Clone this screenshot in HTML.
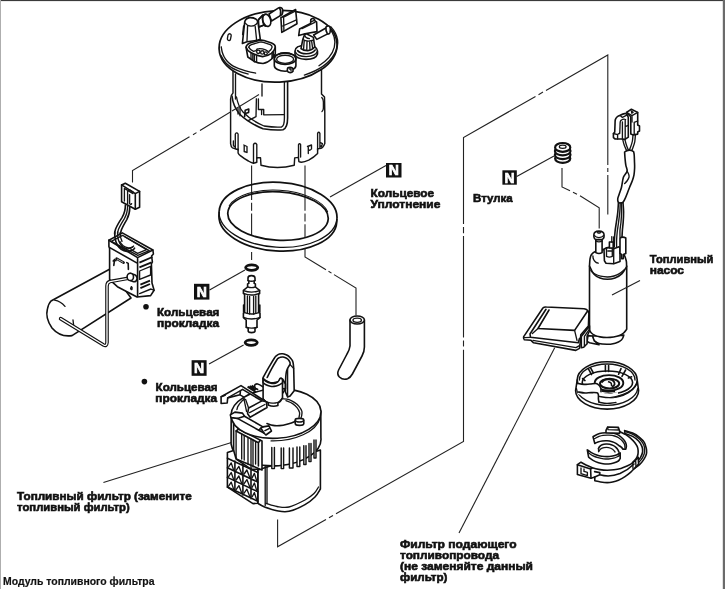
<!DOCTYPE html>
<html><head><meta charset="utf-8">
<style>
html,body{margin:0;padding:0;background:#fff;}
body{width:725px;height:589px;overflow:hidden;position:relative;font-family:"Liberation Sans",sans-serif;}
svg{position:absolute;left:0;top:0;display:block;filter:grayscale(100%)}
text{font-family:"Liberation Sans",sans-serif;font-weight:bold;fill:#111;}
.t{font-size:11.5px;stroke:#111;stroke-width:0.62px;}
.c{font-size:11px;stroke:#111;stroke-width:0.2px;}
.n{font-size:14px;fill:#fff;stroke:#fff;stroke-width:0.7px;}
.l{fill:none;stroke:#151515;stroke-width:1.35;stroke-linecap:round;stroke-linejoin:round}
.h{fill:none;stroke:#111;stroke-width:1.75;stroke-linecap:round;stroke-linejoin:round}
.m{fill:none;stroke:#111;stroke-width:1.6;stroke-linecap:round;stroke-linejoin:round}
.w{fill:#fff;stroke:#151515;stroke-width:1.45;stroke-linecap:round;stroke-linejoin:round}
.wm{fill:#fff;stroke:#111;stroke-width:1.6;stroke-linecap:round;stroke-linejoin:round}
.wh{fill:#fff;stroke:#111;stroke-width:1.75;stroke-linecap:round;stroke-linejoin:round}
.k{fill:#111;stroke:none}
.ld{fill:none;stroke:#222;stroke-width:1.1;}
</style></head><body>
<svg width="725" height="589" viewBox="0 0 725 589">
<rect x="0" y="0" width="725" height="589" fill="#fff"/>
<!-- frame -->
<rect x="0" y="0" width="725" height="1.1" fill="#3a3a3a"/>
<rect x="0" y="0" width="1" height="589" fill="#aeaeae"/>
<rect x="722.8" y="0" width="2.2" height="589" fill="#6b6b6b"/>

<!-- ===== LEADERS ===== -->
<g id="leaders" class="ld">
<!-- module -> sender connector -->
<path d="M259 94.5 L200 130.5 M196.5 132.6 L193 134.7 M189.5 136.8 L132.5 170.5 L132.5 182.5"/>
<!-- verticals through ring -->
<path d="M251.6 165.5 V200 M251.6 202.8 V210.8 M251.6 213.5 V243 M251.6 252 V260"/>
<path d="M305 165.5 V210.8 M305 213.5 V221.5 M305 224.2 V257 L326 269.8 M328.5 271.3 L331.5 273.1 M334 274.6 L356 288 V315.5"/>
<!-- ring N -->
<path d="M330 197 L386 165.5"/>
<!-- oring N upper -->
<path d="M209.5 290 L245 270"/>
<path d="M209 364 L243.6 345"/>
<!-- filter label -->
<path d="M103.4 482.6 L233 442"/>
<!-- big polygon -->
<path d="M607.8 214.5 V175 M607.8 172 V168 M607.8 165 V55 L546 90.4 M543 92.1 L538.5 94.7 M535.5 96.4 L463.5 137.6 V224 M463.5 227 V233.2 M463.5 236 V337.6 M463.5 340.6 V346.6 M463.5 349.8 V441.5 L336 513.7 M333 515.4 L329 517.7 M326 519.4 L277.6 546.8 V519.5"/>
<!-- bushing -->
<path d="M516.7 176.5 L554 156"/>
<path d="M562 168 V187 L570 190.8 M573 192.3 L577 194.2 M580 195.8 L599.2 207.7 V228.6"/>
<!-- supply filter label -->
<path d="M554.7 347.8 L459 533"/>
</g>

<!-- ===== N BOXES ===== -->
<g id="nboxes">
<rect class="k" x="386" y="163" width="15.5" height="14.5"/>
<text class="n" x="393.8" y="175.3" text-anchor="middle">N</text>
<rect class="k" x="502.4" y="170.3" width="14.4" height="14.4"/>
<text class="n" x="509.6" y="182.5" text-anchor="middle">N</text>
<rect class="k" x="194" y="283.8" width="15.4" height="15.8"/>
<text class="n" x="201.7" y="296.9" text-anchor="middle">N</text>
<rect class="k" x="191.6" y="360.2" width="15" height="15.6"/>
<text class="n" x="199.1" y="373.2" text-anchor="middle">N</text>
</g>

<!-- ===== TEXT ===== -->
<g id="labels">
<text class="t" x="370.6" y="197.2" textLength="63.4" lengthAdjust="spacingAndGlyphs">Кольцевое</text>
<text class="t" x="370.6" y="208.1" textLength="69.8" lengthAdjust="spacingAndGlyphs">Уплотнение</text>
<text class="t" x="473" y="202.3" textLength="39.7" lengthAdjust="spacingAndGlyphs">Втулка</text>
<text class="t" x="649.8" y="263" textLength="63.6" lengthAdjust="spacingAndGlyphs">Топливный</text>
<text class="t" x="649.8" y="273.9" textLength="34.2" lengthAdjust="spacingAndGlyphs">насос</text>
<circle class="k" cx="146" cy="306.8" r="2.8"/>
<text class="t" x="157" y="316" textLength="62.4" lengthAdjust="spacingAndGlyphs">Кольцевая</text>
<text class="t" x="157" y="327.2" textLength="62" lengthAdjust="spacingAndGlyphs">прокладка</text>
<circle class="k" cx="144.4" cy="381.6" r="2.8"/>
<text class="t" x="155.6" y="390.6" textLength="62" lengthAdjust="spacingAndGlyphs">Кольцевая</text>
<text class="t" x="155.3" y="401.8" textLength="61.8" lengthAdjust="spacingAndGlyphs">прокладка</text>
<text class="t" x="17.1" y="499.9" textLength="174.6" lengthAdjust="spacingAndGlyphs">Топливный фильтр (замените</text>
<text class="t" x="17.1" y="510.9" textLength="112.6" lengthAdjust="spacingAndGlyphs">топливный фильтр)</text>
<text class="t" x="400" y="547.8" textLength="116.6" lengthAdjust="spacingAndGlyphs">Фильтр подающего</text>
<text class="t" x="400" y="559" textLength="99" lengthAdjust="spacingAndGlyphs">топливопровода</text>
<text class="t" x="400" y="570.4" textLength="133" lengthAdjust="spacingAndGlyphs">(не заменяйте данный</text>
<text class="t" x="400" y="581.4" textLength="47.4" lengthAdjust="spacingAndGlyphs">фильтр)</text>
<text class="c" x="3" y="584.8" textLength="151.5" lengthAdjust="spacingAndGlyphs">Модуль топливного фильтра</text>
</g>

<!-- ===== PARTS ===== -->
<g id="parts">
<!-- ===== TOP MODULE ===== -->
<g id="module">
<!-- body silhouette -->
<path class="w" d="M233 70 L233 93 Q230.6 95 230.6 99 L230.6 143.7 Q231 147.2 232.5 147.9 L236.7 149.3 L238.1 149.3 L238.1 153 Q239 155 240 155.4 Q244 158.6 248.4 161 Q251 162.6 253.5 163.3 L256.8 162.2 L256.8 157.7 L260.5 157.7 L261 165.2 Q277 169.8 294.2 165.3 L294.7 157.9 L298.4 157.4 L298.9 161.6 Q302 163.2 308.7 160.2 Q314 157.4 317.6 153.6 L317.6 148.6 L319.4 148.6 Q323 148.4 324.8 143.4 L324.8 113 L324.5 97 L321.5 94 L321.5 70 Z"/>
<path class="l" d="M235.5 74 L235.5 99"/>
<path class="m" d="M232 96 Q233 106 239.5 114 Q248 122.5 263 128.8 Q275 130.6 283 129.8 Q287.6 128 287.6 118 L287.6 81"/>
<path class="l" d="M236.5 97 Q238 106 243 112 Q251 120.5 264 126 Q275 127.6 281.5 127 Q284.4 126 284.4 118 L284.4 82"/>
<!-- leader inside window -->
<path class="ld" d="M259 94.5 L232 111"/>
<!-- inner back wall details -->
<path class="l" d="M262 84 L262 96"/>
<path class="l" d="M256.4 98.8 L256 116.7 L248.2 120.6 M258.4 98.8 L258.4 109.5 L263.7 109.5 L263.7 114.8 L284.4 114.6 M261.6 109.5 L261.6 114.6"/>
<path class="l" d="M240 107 L240 115.8 M238 108.4 L238 114"/>
<path class="m" d="M244.6 116.6 L245.2 110.2 L248.8 109 L248.6 112.4 L245.2 113.6"/>
<!-- right side wall details -->
<path class="l" d="M321.8 97.5 Q323.4 99 323.4 102 L323.4 108 Q323.4 110.5 322 111.5"/>
<path class="l" d="M317.6 150 L317.6 133.4 Q318.7 131.2 319.9 133.4 L319.9 148.4 M320 142.4 L322.4 143.6 L321.6 146.4 L320 145.6"/>
<!-- bottom tabs left -->
<path class="l" d="M235.3 148.6 L235.3 134 Q236.7 131.8 238.1 134 L238.1 150"/>
<path class="l" d="M253.5 163 L253.5 144.4 Q255.1 142.2 256.8 144.4 L256.8 158"/>
<path class="l" d="M243.8 145 L247 146.5 L247 152.5 M244.2 146 L244.2 151.5 L246 152.2"/>
<path class="l" d="M233.4 141 L233.4 145.6 L234.8 146.6"/>
<!-- bottom tabs right -->
<path class="l" d="M298.5 144.5 L298.5 157.5 M300.6 144.5 L300.6 157 M298.5 144.5 Q299.5 143 300.6 144.5"/>
<path class="l" d="M307.5 146.5 L311.5 145 L311.5 149 M308.3 147.5 L308.3 153.5 M308.3 150.5 L310.5 149.8"/>
<!-- FLANGE -->
<g transform="rotate(-2.5 277.2 45)">
<ellipse class="wh" cx="278" cy="46.4" rx="59" ry="35.8"/>
<path class="l" d="M303 76.2 A59.6 35 0 0 0 331.5 29"/>
<path class="l" d="M318 67.5 A57.5 33 0 0 0 329.5 30"/>
</g>
<path class="l" d="M220.8 55.3 C221.2 56.0 222.4 58.2 223.4 59.6 C224.4 61.0 225.3 62.5 226.7 63.8 C228.1 65.1 229.8 66.5 231.6 67.6 C233.4 68.7 235.9 69.8 237.8 70.6 C239.7 71.4 241.3 72.0 243.0 72.6 C244.7 73.2 247.2 73.8 248.0 74.0"/>
<path class="l" d="M221.2 46.8 C221.4 47.7 221.7 50.3 222.2 52.0 C222.7 53.7 223.4 55.5 224.2 57.0 C225.0 58.5 225.9 59.7 227.0 61.0 C228.1 62.3 229.5 63.5 231.0 64.6 C232.5 65.7 234.2 66.6 236.0 67.4 C237.8 68.2 239.9 69.0 242.0 69.7 C244.1 70.4 246.3 71.0 248.6 71.6 C250.9 72.2 254.4 72.8 255.6 73.1"/>
<!-- small slot -->
<path class="l" d="M228 35 Q228.6 33.6 230.2 33.8 Q231.4 34.2 231.2 35.6 L230.4 39.6 Q229.8 40.8 228.4 40.4 Q227.2 40 227.4 38.6 Z"/>
<!-- elbow tube from post -->
<path class="w" d="M258.5 19.6 L262.6 15 L267 23.8 L258.9 27 Z" stroke="none"/>
<path class="m" d="M258.5 19.8 L262.8 15.4 M259 27 L266 24.2"/>
<path class="wm" d="M269 14 L278.2 8.1 Q280.5 6.6 282.2 8.6 Q283.6 11 282 14.6 L271.5 21 Z"/>
<path class="m" d="M279.4 7.6 Q281.4 10.6 280.4 15.4"/>
<ellipse class="wm" cx="266.7" cy="20.2" rx="3.9" ry="6.3" transform="rotate(-18 266.7 20.2)"/>
<path class="m" d="M265.2 14.5 Q262.2 15 262.6 20 Q263 25 265.4 26.2"/>
<!-- post -->
<path class="wm" d="M242.4 43.4 L244.7 22 Q245.5 18.2 249.8 17.6 Q255 17.4 257.2 20.4 L258.2 24 L260.3 39.3 L256.6 40.4 L247 41.8 Z"/>
<path class="l" d="M247.6 25.6 L247 40.8 M255.2 26.5 L256.6 39.8 M245.2 23 Q247 25.8 251 26.2 Q255.6 26 257.6 22.4"/>
<path class="l" d="M243.6 26 L242.6 34.5"/>
<!-- plate 1 -->
<path class="wm" d="M280.9 17.8 L295.6 9.5 L297 23.7 L281.8 32.4 Z"/>
<path class="l" d="M282.7 26 L296.5 19.8 M283.6 17.4 L283.9 30.8 M283.6 17.2 L294.7 11.4"/>
<!-- plate 2 -->
<path class="wm" d="M299.6 29 L310.6 23.4 L310.8 19.6 Q312.4 17.8 314.2 19 L315.2 21.2 L316.6 22 L317 31.6 L305 33.8 L298.7 35.6 Z"/>
<path class="l" d="M302 28.6 L314.8 22.4 M310.8 21.8 L314.4 20.4"/>
<!-- tube right -->
<path class="wm" d="M313.6 35 L326.4 27.8 L328.2 33.6 L316.8 39.4 Z"/>
<path class="wm" d="M326 27 Q327.6 25 329.6 26.4 Q331.2 29 330 32.6 Q328.8 34.6 327.4 33.8 Q325.4 31.2 326 27 Z"/>
<!-- fitting base -->
<path class="wm" d="M295 51 Q295 45.4 306.2 45.2 Q317.4 45.6 317.5 51 L317.5 54 Q316 59.4 306 59.4 Q296 59 295 54.4 Z"/>
<path class="l" d="M295.4 52 Q297 56.4 306.2 56.6 Q315.6 56.4 317.3 51.6"/>
<path class="m" d="M297.6 50.6 Q300.4 53.8 306.4 53.8 Q312.4 53.6 315.2 50"/>
<!-- nut -->
<path class="wm" d="M301 48.6 L302.8 39.5 L304.4 35 Q305.4 33.4 307.4 34.2 L313.4 37.4 L313.8 40.6 L314.8 46.8 Q312 50.4 307.6 50.6 Q303.4 50.6 301 48.6 Z"/>
<path class="l" d="M304.2 41 L303.6 48.6 M307 41.4 L306.8 49.6 M309.6 41.4 L310 49.4 M311.6 40.8 L312.6 48.2 M302.8 39.5 Q307 42.2 313.6 40.2"/>
<path class="l" d="M304.6 35.2 Q305.4 38 309.4 38.6"/>
<!-- ring -->
<path class="wm" d="M274.3 58.7 A10.8 5.8 0 0 1 295.9 58.7 L295.9 65.4 A10.8 5.9 0 0 1 274.3 65.4 Z"/>
<ellipse class="m" cx="285.1" cy="58.7" rx="10.8" ry="5.8"/>
<ellipse class="l" cx="285.1" cy="59.3" rx="8.5" ry="4.1"/>
<path class="wm" d="M287.4 69 Q287.6 67.4 290 67.4 Q292.8 67.6 293 69.2 L293 71.2 Q292 72.6 290.2 72.6 Q287.8 72.4 287.4 71 Z"/>
<path class="l" d="M289.6 69 L291 69 L291 70.8"/>
<!-- connector socket -->
<path class="wm" d="M246 47 Q246.6 44.4 250 43 L259 40.4 Q261.5 39.8 264 40.6 L271.6 43 Q275.6 44.6 275.3 47.4 L275.3 54 L271.6 59 Q267.6 63 263 63.5 Q257.6 63.4 253.8 61.2 L247.8 57 Z"/>
<path class="m" d="M246.2 47.4 Q247.2 51 251.2 52.8 Q257 55.8 262.6 56.6 Q267.8 56.2 271.4 53.4 Q274.6 50.4 275.2 47.6"/>
<path class="l" d="M248.7 47.2 Q249 45.6 251.4 44.6 L259.7 42.2 Q261.6 41.8 263.4 42.4 L270.2 44.6 Q272.4 45.6 272 47.4 Q271.4 50 269 51.4"/>
<path class="l" d="M248.8 47.4 Q250.4 50.2 253.6 51.4 L256 50.6 Q256.6 48.6 259 48.6 Q262 48.4 265.6 49.8 Q268.4 51.2 268.8 52.6"/>
<circle class="l" cx="258.3" cy="51.8" r="1.7"/><circle class="l" cx="262.3" cy="52.4" r="1.7"/><circle class="l" cx="265.8" cy="53.4" r="1.5"/>
<path class="l" d="M251 53 L251 58.6 M252.8 53.8 L252.8 60 M254.4 55 L254.4 61.4 M256.6 55.6 L256.6 62 M272 53.4 L272 58.4 M273.4 52 L273.4 57"/>
</g>

<!-- ===== RING SEAL ===== -->
<g id="ring" transform="rotate(3.5 278 216)">
<path d="M219 216.5 L219 219 A59 32.7 0 0 0 337 219 L337 216.5 L328.3 216 A50.3 24.2 0 0 1 227.7 216 Z" fill="#fff" stroke="none"/>
<path d="M219 214.8 A59 32.4 0 0 1 337 214.8" fill="none" stroke="#111" stroke-width="1.75"/>
<path d="M219 214.8 A59 32.4 0 0 0 337 214.8" fill="none" stroke="#111" stroke-width="1.25"/>
<path d="M219 214.8 L219 218.6 A59 32.4 0 0 0 337 218.6 L337 214.8" fill="none" stroke="#111" stroke-width="1.75" stroke-linejoin="round"/>
<ellipse cx="278" cy="216" rx="50.3" ry="24.2" fill="none" stroke="#111" stroke-width="1.75"/>
<path d="M228.5 209 A51 24.8 0 0 1 327.5 209" fill="none" stroke="#111" stroke-width="1"/>
</g>

<!-- ===== SENDER UNIT ===== -->
<g id="sender">
<!-- float cylinder -->
<path class="wm" d="M51 301 L110 269 L131 298 L72 335.6 Q60 337.4 52 328 Q45 318 47.4 309 Q48.6 303.4 51 301 Z"/>
<path class="l" d="M54.6 300.2 Q60.6 301.4 65 306.4 M73 320 L73.6 325"/>
<!-- sender body -->
<path class="wm" d="M108.9 240.2 L122.3 232.9 L152.9 250 L153.4 254 L151.6 256 L152.4 262 L151.4 264 L152 283 L154.1 290.3 L150.6 295.6 L137 297 L117.4 286.7 L109.6 279.6 L109.6 248.6 L108.9 246.6 Z"/>
<path class="m" d="M108.9 240.2 L137.6 257.6 L152.9 250 M137.6 257.6 L137.6 296.6 M109.8 247.6 L137.6 263.4"/>
<path class="l" d="M111.3 241.4 L122.6 235.4 L149.2 250.6 L137.8 255.4 Z"/>
<path class="l" d="M125 237 L146.6 249.6 L137.6 253.4 M137.6 253.4 L131 249.6"/>
<path class="l" d="M119.9 241.4 Q122 246.6 128.6 247.8 Q132.6 248 133.6 246"/>
<!-- right face ribs -->
<path d="M139.4 262.6 L152.4 257 M139.4 267.4 L151.6 262.4" fill="none" stroke="#111" stroke-width="1.9"/>
<path class="l" d="M139.6 271 L150.6 266.4 L150.6 275 L139.6 279.4 Z"/>
<path d="M140.4 284.6 L150 280.6 M140.4 288.2 L150 284" fill="none" stroke="#111" stroke-width="1.9"/>
<path class="l" d="M139.6 293.6 L151 289 L154 290.4"/>
<!-- arrow marking & 1 -->
<path class="m" d="M113.8 265.4 L114.6 259.6 L113.2 261 M114.6 259.6 L116 260.6"/>
<path d="M116.6 258.6 L123.6 262.6" fill="none" stroke="#111" stroke-width="2.6" stroke-linecap="round"/>
<path d="M117.4 259.2 L122.8 262.2" fill="none" stroke="#fff" stroke-width="0.7" stroke-linecap="round" stroke-dasharray="1 0.8"/>
<path class="m" d="M126.8 262.6 L128.2 263.4 L128.4 269.4"/>
<!-- wires in tray -->
<path class="m" d="M114.8 232 Q114.4 240 117.4 245 Q120.6 250.6 127 251.4 Q133 251.2 134.6 248.2"/>
<path class="l" d="M117.6 232 Q117.2 239 120 243.6 Q123 248.4 127.6 248.8 Q131 248.6 132.4 247"/>
<path class="l" d="M120 233 Q120 237.4 122 241.4"/>
<!-- wires -->
<path class="m" d="M125.4 205 Q125.4 212 122 217.6 Q117.4 224.6 115.6 229 Q114.6 232 114.6 234"/>
<path class="l" d="M127.6 206 Q127.6 213 124.4 218.6 Q120 225.6 118.4 229.6 Q117.6 232 117.6 234"/>
<path class="m" d="M129.8 207 Q129.8 214 126.8 219.6 Q122.6 226.6 121.2 230.4 Q120.4 233 120.4 235"/>
<!-- connector -->
<path class="wm" d="M121.6 184.9 L125.3 183.2 L139.6 191.4 L139.6 207.2 L135.3 209.3 L121.6 201.7 Z"/>
<path class="m" d="M121.6 184.9 L135.3 193.6 L139.6 191.4 M135.3 193.6 L135.3 209.3"/>
<path class="l" d="M124.4 188.4 L124.4 201 M124.4 188.4 L133 193.6 M127.6 190.6 L127.6 203.6 M129.6 194.6 L129.6 203.4 Q130.6 205.4 131.6 203.6 M127.8 191 L130 190 L133.2 192"/>
<!-- float arm -->
<path d="M131 277.8 L110 281.6 Q107 282.4 107 286 L107 342.6 Q106.6 346.6 103.6 345 L60.6 318.6" fill="none" stroke="#111" stroke-width="3.6" stroke-linecap="round" stroke-linejoin="round"/>
<path d="M131 277.8 L110 281.6 Q107 282.4 107 286 L107 342.6 Q106.6 346.6 103.6 345 L60.6 318.6" fill="none" stroke="#fff" stroke-width="1.3" stroke-linecap="round" stroke-linejoin="round"/>
<!-- pivot -->
<path class="wm" d="M130.3 273.4 L134 274.4 Q137.4 275.6 137 279 Q136.4 282 133.6 281.8 L130.3 280.4 Z"/>
<ellipse class="wm" cx="130.3" cy="276.9" rx="3.2" ry="3.6"/>
<path class="l" d="M131.4 286.6 Q132.6 287.6 132 289.4 Q131 290 130.6 288.6 Z"/>
</g>

<!-- ===== O-RINGS + STRAINER ===== -->
<g id="strainer">
<ellipse cx="251.7" cy="267.6" rx="6.1" ry="2.8" fill="#fff" stroke="#111" stroke-width="2.7"/>
<ellipse cx="251.2" cy="342.6" rx="6.1" ry="2.8" fill="#fff" stroke="#111" stroke-width="2.7"/>
<!-- strainer body -->
<path class="wm" d="M248 278 Q248 275.6 251.4 275.6 Q255 275.6 255 278 L255 280.4 L254.2 281 L254.2 283.4 L255.4 284 L255.4 287 L259.6 290.4 L259.6 293.6 L258.6 294.2 L258.6 312.4 L260 313.2 L260 317.6 L257 320 L257 327.4 L255 328.4 L255 331.2 Q254.6 332.6 251.6 332.6 Q248.6 332.6 248.2 331.2 L248.2 328.4 L246.2 327.4 L246.2 320 L243.4 317.6 L243.4 313.2 L244.6 312.4 L244.6 294.2 L243.4 293.6 L243.4 290.4 L247.6 287 L247.6 284 L248.8 283.4 L248.8 281 L248 280.4 Z"/>
<path class="l" d="M248 280.6 Q251.5 282 255 280.6 M247.6 286.8 Q251.5 288.4 255.4 286.8 M243.6 293.4 Q251.5 296.6 259.4 293.4 M243.6 290.6 Q251.5 293.6 259.6 290.6 M244.6 312.6 Q251.5 315.4 258.6 312.6 M243.6 317.4 Q251.5 320.6 260 317.4 M246.4 327.2 Q251.5 329 257 327.2"/>
<path class="l" d="M247.4 296 L247.4 313.4 M249.6 296.4 L249.6 314 M253.6 296.4 L253.6 314 M255.8 296 L255.8 313.4"/>
<path class="m" d="M243.6 305 L243.6 312 M259.8 305 L259.8 312"/>
</g>

<!-- ===== HOSE ===== -->
<g id="hose">
<path class="wm" d="M350 320 L350 346 Q349.6 349.6 347 354 L338.6 370 Q336.6 374 339.4 377 Q343 380.4 347.6 378.8 Q350.4 377.6 352.4 374 L362 356 Q364.4 351.6 364.4 347 L364.4 320 Z"/>
<ellipse class="wm" cx="357.2" cy="320" rx="7.2" ry="4"/>
<ellipse class="l" cx="357.2" cy="320.2" rx="4.2" ry="2.1"/>
</g>

<!-- ===== FUEL FILTER ===== -->
<g id="filter">
<path class="wm" d="M257.8 470 L257.8 503.3 L257.8 503.3 C258.9 503.9 261.4 505.8 264.6 507.0 C267.8 508.2 272.9 510.1 277.0 510.8 C281.1 511.5 284.3 512.3 289.0 511.3 C293.7 510.3 300.7 507.0 305.0 504.6 C309.3 502.2 312.4 499.6 315.0 497.0 C317.6 494.4 319.5 490.3 320.4 489.0 L320.4 450 Z"/>
<path class="l" d="M265.9 503.3 C267.8 503.8 273.1 505.9 277.0 506.5 C280.9 507.1 284.3 508.1 289.0 507.0 C293.7 505.9 300.8 502.2 305.0 500.0 C309.2 497.8 311.8 495.8 314.0 493.6 C316.2 491.4 317.8 488.1 318.5 487.0"/>
<path class="l" d="M265.2 462 L265.2 505.4 M267 464 L267 503.6"/>
<path class="wm" d="M231.2 414 L231.1 444.2 A45 24.8 -3 0 0 320.9 437.8 L320.8 411 Z"/>
<path class="w" d="M271.8 447.5 L271.8 468.6 L274.4 468.6 L274.4 447.5 M281.2 448 L281.2 468.6 L283.6 468.6 L283.6 448 M289.4 448 L289.4 468 L293 468 L293 448 M297 447 L297 466.4 L299.8 466.4 L299.8 447 M303.8 445.6 L303.8 464.4 L306 464.4 L306 445.6 M309 443.4 L309 461.6 L311 461.6 L311 443.4 M314 440 L314 458 L316 458 L316 440 "/>
<path class="wm" d="M233.6 420 L233.6 452 L236.1 459 L262 470 L262 441 L238.6 429.1 Z"/>
<path class="m" d="M236.1 431 L258.4 442.8 L260.3 440.3 M236.1 431 L238.6 429.1 M258.4 442.8 L258.4 466"/>
<path class="l" d="M236.1 431 L236.1 458 M241.7 434.2 L241.7 459 M244.2 435.6 L244.2 460 M248 437.6 L248 464 M251 439.2 L251 469 M253 440.2 L253 467 M255.6 441.6 L255.6 464"/>
<path class="wm" d="M227.4 452.4 L233.6 450.4 L236.1 459 L242.9 463.6 L251 469.2 L257.8 469.2 L257.8 503.3 L253 503.6 L227.4 487.2 Z"/>
<path class="m" d="M234.9 461.0 L234.9 491.5 M242.9 464.6 L242.9 495.1 M251 468.2 L251 498.7 M227.4 458.2 L257.8 472.5 M227.4 467.8 L257.8 482.1 M227.4 477.4 L257.8 491.7 M227.4 487.0 L257.8 501.3 "/>
<path class="l" d="M228.6 467.0 L231.2 462.9 L233.7 470.2 M228.6 476.6 L231.2 472.5 L233.7 479.8 M228.6 486.2 L231.2 482.1 L233.7 489.4 M236.1 470.4 L238.9 466.4 L241.7 473.8 M236.1 480.0 L238.9 476.0 L241.7 483.4 M236.1 489.6 L238.9 485.6 L241.7 493.0 M244.1 474.0 L246.9 470.0 L249.8 477.4 M244.1 483.6 L246.9 479.6 L249.8 487.0 M244.1 493.2 L246.9 489.2 L249.8 496.6 M252.2 477.6 L254.4 473.4 L256.6 480.5 M252.2 487.2 L254.4 483.0 L256.6 490.1 M252.2 496.8 L254.4 492.6 L256.6 499.7 "/>
<ellipse class="wm" cx="276" cy="413.5" rx="45" ry="24.8" transform="rotate(-3 276 413.5)"/>
<path class="l" d="M271.1 440.9 A44.4 24.4 -3 0 0 319.9 418.3"/>
<path class="l" d="M282.0 398.7 C283.2 398.9 286.9 399.0 289.0 399.6 C291.1 400.2 292.7 401.3 294.4 402.4 C296.1 403.5 297.8 404.9 299.0 406.4 C300.2 407.9 301.5 409.7 301.9 411.3 C302.3 412.9 301.8 414.8 301.6 416.0 C301.4 417.2 300.9 418.2 300.7 418.6"/>
<path class="l" d="M286.0 400.6 C287.1 401.1 290.8 402.4 292.6 403.6 C294.4 404.8 295.8 406.1 297.0 407.6 C298.2 409.1 299.3 411.0 299.6 412.6 C299.9 414.2 299.1 416.6 299.0 417.4"/>
<path class="m" d="M267.0 423.5 C268.0 423.8 270.9 425.0 273.0 425.4 C275.1 425.8 277.2 425.8 279.5 425.6 C281.8 425.4 284.5 424.9 287.0 424.2 C289.5 423.5 292.7 422.5 294.4 421.7 C296.1 420.9 296.9 420.0 297.4 419.6"/>
<path class="wm" d="M295.2 420 Q295.2 418.4 299.4 418.4 Q303.6 418.4 303.8 420 L303.8 423.6 Q303.6 425.4 299.4 425.4 Q295.4 425.4 295.2 423.6 Z"/>
<path class="l" d="M295.4 420.4 Q296 422 299.4 422 Q303 422 303.6 420.4"/>
<path class="wm" d="M230.3 414.9 L234.9 412.1 L242.5 413.1 L244.5 416.2 L262.9 426.9 L269 425.9 L271.5 431 L265.9 435 L263.9 433 L258.8 430.2 L237.4 418.4 L231 417.6 Z"/>
<path class="m" d="M244.5 416.2 L237.4 418.4 M262.9 426.9 L260.8 428 L263.9 433 M260.8 428 L258.8 430.2 M265 430.6 L269 428.6"/>
<path class="l" d="M236.9 409.6 C237.1 409.1 237.4 407.5 237.8 406.6 C238.2 405.7 238.8 404.9 239.4 404.0 C240.0 403.1 240.8 402.2 241.6 401.4 C242.4 400.5 244.0 399.3 244.5 398.9"/>
<path class="wm" d="M263.1 378.5 L263.1 398.9 Q265 402 268.2 402.8 L268.2 405 Q273 407.2 277.9 405.5 L277.9 403 Q281 401.6 282.5 398 L282.5 379 Z"/>
<path class="l" d="M263.1 398.9 C263.6 399.3 264.9 401.0 266.0 401.6 C267.1 402.2 268.4 402.6 270.0 402.8 C271.6 403.0 273.9 403.2 275.4 403.0 C276.9 402.8 277.8 402.6 279.0 401.8 C280.2 401.0 281.9 398.6 282.5 398.0"/>
<path class="wm" d="M221.1 396.8 L241 385.6 L266.4 401.9 L267 407.5 L250.1 417.2 L247.6 413.7 L248.6 408 L261.9 400.9 L242.5 389.4 L240.5 390.7 L240 394.8 L227.7 397.9 L227.2 403 L221.1 403.5 Z"/>
<path class="l" d="M221.1 396.8 L225.2 395.3 M227.7 397.9 L240.5 390.7 M261.9 400.9 L266.4 401.9 M249.6 412.6 L264.9 404.5 M248.6 408 L245.6 399.4 M240 394.8 L243.5 396.8 L246.6 411.6"/>
<path d="M247.6 386.6 L255.7 392 M249.6 386 L255.7 390 M251.6 385.6 L254.6 387.6" fill="none" stroke="#111" stroke-width="1.9"/>
<path class="m" d="M262.6 386.6 Q256.6 382 254.7 385.2 Q254 388.6 257.6 389.4"/>
<path class="wm" d="M263.1 377.5 C264.0 376.0 266.3 371.6 268.2 368.4 C270.1 365.2 272.9 360.3 274.3 358.2 C275.7 356.1 275.8 356.3 276.6 355.6 C277.5 354.9 278.4 354.4 279.4 354.1 C280.4 353.8 281.6 353.7 282.6 353.8 C283.6 353.9 284.5 354.2 285.5 354.6 C286.5 355.0 287.5 355.4 288.4 356.0 C289.2 356.6 289.9 357.4 290.6 358.2 C291.3 359.0 292.0 359.8 292.4 360.6 C292.8 361.5 293.0 362.0 293.2 363.3 C293.4 364.6 293.6 367.5 293.7 368.4 L294.2 390.8 L290.1 395.9 L287.6 396.9 L285.5 392 L285.5 384 L282.5 379 Q273 387 263.1 378.5 Z"/>
<path class="m" d="M267.2 377.5 C267.9 376.1 269.7 372.4 271.3 369.4 C272.9 366.4 275.7 361.6 276.9 359.7 C278.1 357.8 278.0 358.4 278.6 358.0 C279.2 357.6 279.8 357.4 280.5 357.2 C281.2 357.0 282.2 356.9 283.0 357.0 C283.8 357.1 284.7 357.4 285.5 357.7 C286.3 358.0 287.0 358.5 287.6 359.0 C288.2 359.5 288.7 360.1 289.1 360.7 C289.5 361.3 289.8 362.0 290.0 362.6 C290.2 363.2 290.1 364.0 290.1 364.3 L290.1 364.3 C289.7 365.0 288.3 366.9 287.6 368.4 C286.9 369.9 286.4 371.6 286.1 373.5 C285.8 375.4 285.7 377.5 285.6 380.0 C285.5 382.5 285.5 387.2 285.5 388.7 L283 392.8"/>
<path class="l" d="M287.6 369 L287.6 396.6 M290.1 364.6 L293.6 368.4"/>
<path class="wm" d="M263.1 378.5 C263.5 378.9 264.8 380.5 265.6 381.2 C266.5 381.9 267.1 382.2 268.2 382.6 C269.3 383.0 270.8 383.3 272.0 383.4 C273.2 383.5 274.5 383.3 275.4 383.1 C276.3 382.9 277.0 382.4 277.6 382.0 C278.2 381.6 278.6 381.0 279.0 380.4 C279.4 379.8 279.7 379.0 280.0 378.6 C280.3 378.2 280.6 377.9 281.0 378.0 C281.4 378.1 282.2 379.2 282.5 379.4 L282.5 384 L282.5 382.8 C281.8 383.2 279.8 384.6 278.4 385.2 C277.0 385.8 275.4 386.2 274.0 386.4 C272.6 386.6 271.6 386.5 270.3 386.2 C269.0 385.9 267.2 385.4 266.0 384.8 C264.8 384.2 263.6 383.0 263.1 382.6 Z"/>
</g>
<!-- ===== FUEL PUMP ===== -->
<g id="pump">
<path class="l" d="M622.6 139.0 C622.9 140.0 623.5 143.1 624.2 145.0 C624.9 146.9 626.0 149.2 626.6 150.6 C627.2 152.0 627.4 153.1 627.6 153.6"/>
<path class="l" d="M624.8 139.0 C625.1 140.0 625.8 143.2 626.4 145.0 C627.0 146.8 627.9 148.7 628.4 150.0 C628.9 151.3 629.1 152.5 629.2 153.0"/>
<path class="l" d="M633.0 134.7 C632.9 135.8 632.8 138.8 632.4 141.0 C632.0 143.2 631.1 145.7 630.4 147.6 C629.7 149.5 628.6 151.8 628.2 152.6"/>
<path class="l" d="M635.4 134.7 C635.3 135.8 635.2 139.4 634.8 141.6 C634.4 143.8 633.5 146.0 632.8 148.0 C632.1 150.0 631.0 152.5 630.6 153.4"/>
<path class="wm" d="M624.6 152.0 C624.7 153.0 624.8 155.8 625.0 158.0 C625.2 160.2 625.4 162.8 625.8 165.0 C626.1 167.2 627.5 169.0 627.1 171.1 C626.7 173.2 624.3 174.6 623.4 177.3 C622.5 180.0 622.2 184.5 621.5 187.2 C620.8 189.9 620.0 191.7 619.4 193.6 C618.8 195.5 618.0 197.1 617.8 198.4 C617.6 199.7 617.7 200.8 618.0 201.6 C618.3 202.4 619.3 202.8 619.6 203.0 L622.8 202.6 C623.1 202.1 623.9 201.1 624.6 199.7 C625.3 198.3 626.2 196.1 627.0 194.0 C627.8 191.9 628.7 189.4 629.6 187.2 C630.5 185.0 631.7 182.7 632.4 180.6 C633.1 178.5 633.6 176.9 634.0 174.8 C634.4 172.7 634.5 170.1 634.6 168.0 C634.7 165.9 634.6 164.6 634.5 162.4 C634.4 160.2 634.4 156.8 634.2 155.0 C634.1 153.2 633.7 152.2 633.6 151.6 Q629 148.4 624.6 152 Z"/>
<path class="l" d="M627.1 171.1 C627.4 171.7 628.5 173.6 628.8 174.6 C629.1 175.6 629.3 176.2 629.0 177.3 C628.7 178.4 627.7 180.0 627.0 181.0 C626.3 182.0 625.0 183.1 624.6 183.5"/>
<path class="m" d="M618.4 203.0 C618.3 204.5 618.1 208.8 617.8 212.0 C617.5 215.2 616.9 218.7 616.4 222.0 C615.9 225.3 615.3 229.0 615.0 232.0 C614.7 235.0 614.5 237.5 614.4 240.0 C614.3 242.5 614.2 245.8 614.2 247.0"/>
<path class="l" d="M620.2 203.4 C620.1 204.8 620.1 208.9 619.8 212.0 C619.5 215.1 619.0 218.7 618.6 222.0 C618.2 225.3 617.5 229.0 617.2 232.0 C616.9 235.0 616.7 237.5 616.6 240.0 C616.5 242.5 616.6 245.8 616.6 247.0"/>
<path class="l" d="M621.4 203.4 C621.4 204.8 621.7 208.9 621.6 212.0 C621.5 215.1 621.3 219.0 621.0 222.0 C620.7 225.0 620.2 227.5 620.0 230.0 C619.8 232.5 620.0 235.8 620.0 237.0"/>
<path class="m" d="M623.0 202.6 C623.1 204.2 623.6 208.8 623.6 212.0 C623.6 215.2 623.4 219.0 623.2 222.0 C623.0 225.0 622.6 227.5 622.4 230.0 C622.2 232.5 622.1 235.8 622.0 237.0"/>
<path class="wm" d="M626.5 112.4 L631.4 109.3 L637.7 112.4 L637.7 125 L639.5 126 L639.5 131 L637.7 132 L637.7 134.1 L633.3 134.9 L630.8 134 L630.8 116.7 Z"/>
<path class="l" d="M626.5 112.4 L632 115.6 L637.7 112.4 M632 115.6 L632 122 M634.2 122.4 L634.2 134.6 M631.4 111 L633.2 112.2 L631.8 113.2 Z M634.2 122.4 L637.6 121"/>
<path class="wm" d="M613.4 133.5 L614.7 132.2 L614.7 132.2 C614.8 131.0 614.9 127.1 615.0 125.0 C615.1 122.9 615.0 121.1 615.3 119.8 C615.6 118.5 616.3 117.7 617.0 117.0 C617.7 116.3 618.4 116.1 619.7 115.5 C621.0 114.9 623.4 113.8 624.6 113.6 C625.8 113.4 626.4 114.0 627.0 114.6 C627.6 115.2 628.1 116.8 628.3 117.3 L628.3 137.2 L625 139.4 L621.4 139 L619 139 L615.2 139 L613.4 137.6 Z"/>
<path class="l" d="M619.7 133.5 L619.7 133.5 C619.8 132.4 619.9 129.0 620.0 127.0 C620.1 125.0 620.0 122.9 620.3 121.7 C620.6 120.5 621.0 120.4 621.6 120.0 C622.2 119.6 623.3 119.3 624.0 119.2 C624.7 119.1 625.3 119.5 625.6 119.6 M613.4 133.5 L617.6 134.6 L619 133.4 M617.6 134.6 L617.6 139 M622.4 122 L622.4 139 M625.2 120 L625.2 139.2 M625.2 126.6 L628.2 125.4"/>
<path class="l" d="M620.2 115.4 L622.4 117.4 L626.8 115.2"/>
<path class="wm" d="M592.4 336.0 C592.5 336.4 592.7 337.8 593.0 338.6 C593.3 339.4 593.3 340.1 594.3 340.9 C595.3 341.7 596.9 342.8 599.0 343.4 C601.1 344.0 604.6 344.2 606.9 344.3 C609.2 344.4 611.1 344.2 613.0 343.8 C614.9 343.4 617.0 342.5 618.4 341.9 C619.8 341.3 620.7 340.6 621.4 340.0 C622.1 339.4 622.4 338.8 622.8 338.0 C623.2 337.2 623.6 335.6 623.8 335.1 Z"/>
<path class="wm" d="M589.5 266 L589.5 330.3 L589.5 330.3 C589.8 330.8 590.6 332.2 591.4 333.0 C592.2 333.8 592.9 334.5 594.3 335.1 C595.7 335.8 597.9 336.5 600.0 336.9 C602.1 337.3 604.6 337.5 606.9 337.5 C609.2 337.5 611.5 337.3 613.6 337.0 C615.7 336.7 617.7 336.3 619.4 335.6 C621.1 334.9 622.4 334.1 623.6 333.0 C624.8 331.9 626.2 329.9 626.7 329.3 L626.7 266 Z"/>
<path class="wm" d="M589.5 266.0 C589.6 264.8 589.7 260.9 590.0 259.0 C590.3 257.1 590.5 255.7 591.5 254.4 C592.5 253.1 593.9 252.0 595.8 251.2 C597.7 250.4 600.3 249.9 603.0 249.6 C605.7 249.3 609.2 249.3 612.0 249.6 C614.8 249.9 617.9 250.4 620.0 251.4 C622.1 252.4 623.4 253.8 624.4 255.4 C625.4 257.0 625.9 259.1 626.3 261.0 C626.7 262.9 626.5 265.7 626.6 266.6 L626.6 266.6 C625.8 267.8 623.9 271.7 622.0 273.6 C620.1 275.5 617.4 277.1 615.0 278.0 C612.6 278.9 609.9 279.3 607.4 279.3 C604.9 279.3 602.3 278.9 600.0 278.0 C597.7 277.1 595.5 276.0 593.8 274.0 C592.0 272.0 590.2 267.3 589.5 266.0Z"/>
<path class="l" d="M590.8 270.6 C591.5 271.2 593.4 273.1 595.0 274.0 C596.6 274.9 598.5 275.7 600.6 276.2 C602.7 276.7 605.2 277.0 607.4 277.0 C609.6 277.0 612.0 276.6 614.0 276.0 C616.0 275.4 617.7 274.7 619.4 273.6 C621.1 272.5 623.6 270.3 624.4 269.6"/>
<path class="l" d="M592.9 256.0 C593.0 256.4 593.0 257.8 593.2 258.6 C593.5 259.4 593.9 260.2 594.4 260.8 C594.9 261.4 595.4 262.0 596.0 262.4 C596.6 262.8 597.8 263.1 598.2 263.2"/>
<path class="wm" d="M595.8 239.5 L595.8 252.6 Q599 254.4 602.1 252.6 L602.1 239.5 Z"/>
<path class="wm" d="M593.9 234.6 Q594 231.2 598.9 231.1 Q603.9 231.2 604 234.6 L604 237 Q603.6 239.2 602.1 239.6 L595.8 239.6 Q594.2 239.2 593.9 237 Z"/>
<path class="l" d="M594.2 235.4 Q596 237.6 598.9 237.6 Q602 237.6 603.8 235.4 M595.8 241.2 Q599 242.6 602.1 241.2 M597.6 232.6 Q598.9 233.6 600.4 232.6"/>
<path class="wm" d="M604 249.2 L606.5 247.7 L612.3 246.8 L613.7 248.7 L619 246.8 L620 248.2 L620 261.4 L613.7 263.7 L606 263.2 L604.4 260.8 Z"/>
<path class="l" d="M613.7 248.7 L613.7 263.6 M606.5 248.6 Q606.6 247.8 609.4 247.6 Q612.2 247.8 612.3 248.6 L612.3 256.4 Q609.4 257.8 606.5 256.4 Z M607.9 251 L611.3 251"/>
<path class="wm" d="M609.4 242 L613.2 242 L613.2 248 L609.4 248 Z"/>
<path class="l" d="M611.8 236.6 L611.8 242 M613.7 237 L613.7 242"/>
<path class="wm" d="M620 238 Q622.8 236.2 625.8 238 L625.8 253.4 L623.4 254.4 L623.4 258.6 L621.5 258.6 L621.5 254.4 L620 253.4 Z"/>
</g>
<!-- ===== STRAINER SOCK ===== -->
<g id="sock">
<path class="wm" d="M588 335.6 L592.4 336 L594.3 340.9 L599.1 344.8 L589.5 342.8 L587.1 341.4 Z"/>
<path class="wm" d="M542.9 308 Q544 306.8 546.4 307 L584 308.8 Q588.4 309.4 588.9 313.6 L588.4 326 L580.8 334.7 L580 344.7 L579.5 348.4 L575.8 350.4 L533.6 342.8 L531 340.3 L524.3 339.7 Q523 338.4 523.7 336.6 Z"/>
<path class="wm" d="M589.5 325.9 L581.3 336.6 L581.3 347.7 L583.7 347.2 L587.1 343.8 L587.1 336 L589.5 331 Z"/>
<path class="l" d="M589.3 329.4 L584.4 336.4 L584.4 346"/>
<path class="m" d="M546 309.3 L530 334 L530.5 337.2 L578.3 342.8 L579.5 338.4"/>
<path class="l" d="M524.4 337.6 L530.4 337.4 M533 340.4 L576 347.6 L579.4 345.6"/>
<path class="m" d="M549 310 L538 328.5 L574.6 330.4 L587.6 311"/>
<path class="l" d="M538 328.5 L532.4 333.5 M574.6 330.4 L577 340.3"/>
</g>
<!-- ===== RETAINER CUP ===== -->
<g id="retainer">
<path class="wm" d="M575.6 390.5 A31.5 18.6 0 0 0 638.6 390.5 L637.2 380 L577.2 380 Z"/>
<path class="l" d="M576.4 388.4 A30.8 18.4 0 0 0 637.8 388.4"/>
<ellipse class="wm" cx="607.2" cy="379.8" rx="30" ry="18"/>
<path class="l" d="M579.4 380 A27.8 16 0 0 1 635 380"/>
<ellipse class="m" cx="607.4" cy="382.6" rx="25.2" ry="11.6"/>
<path class="m" d="M605.4 365.6 L605.4 371.4 M608.6 365.6 L608.6 371.4 M588.4 368.8 L591.6 374.6 M590.6 367.8 L593.4 373 M621 368.6 L618.6 374.2 M625.6 370 L622 376.4 M582.6 378.6 L585 380.6 M628.4 378 L631.6 376.8"/>
<ellipse cx="609" cy="382.9" rx="14.3" ry="7.8" fill="#fff" stroke="#111" stroke-width="1.9"/>
<ellipse cx="609.6" cy="383.6" rx="9.6" ry="4.8" fill="#fff" stroke="#111" stroke-width="2"/>
<path d="M601.6 382.6 C602.1 382.1 603.3 380.3 604.6 379.8 C605.9 379.3 608.1 379.2 609.6 379.4 C611.1 379.6 612.6 380.2 613.4 381.0 C614.2 381.8 614.8 383.4 614.6 384.4 C614.4 385.4 612.4 386.6 612.0 387.0" fill="none" stroke="#111" stroke-width="1.8"/>
<path d="M608.0 381.6 C608.5 381.8 610.4 382.3 611.0 383.0 C611.6 383.7 611.5 385.5 611.6 386.0" fill="none" stroke="#111" stroke-width="1.5"/>
<path fill="#fff" stroke="none" d="M577.4 383.4 L577.4 383.4 C578.5 383.6 581.9 384.3 584.0 384.4 C586.1 384.5 588.0 384.1 590.0 384.0 C592.0 383.9 594.5 383.3 596.0 383.5 C597.5 383.7 598.2 384.4 599.0 385.2 C599.8 386.0 600.5 387.3 600.8 388.4 C601.1 389.5 601.0 391.2 601.0 391.8 L601 392 L601.0 392.0 C601.8 392.3 604.2 393.4 606.0 393.6 C607.8 393.8 610.0 393.7 612.0 393.4 C614.0 393.1 617.0 392.2 618.0 392.0 L618 396 L606 400 L598 402 L578 394 Z"/>
<path class="m" d="M577.4 383.4 L577.4 383.4 C578.5 383.6 581.9 384.3 584.0 384.4 C586.1 384.5 588.0 384.1 590.0 384.0 C592.0 383.9 594.5 383.3 596.0 383.5 C597.5 383.7 598.2 384.4 599.0 385.2 C599.8 386.0 600.5 387.3 600.8 388.4 C601.1 389.5 601.0 391.2 601.0 391.8"/>
<path d="M602.0 390.6 C603.0 390.8 605.8 391.5 608.0 391.6 C610.2 391.7 613.8 391.1 615.0 391.0" fill="none" stroke="#111" stroke-width="2.4"/>
<path class="m" d="M578.4 392.0 C579.5 392.2 582.9 392.9 585.0 393.0 C587.1 393.1 589.0 392.6 591.0 392.6 C593.0 392.6 595.8 392.4 597.0 392.8 C598.2 393.2 598.2 394.0 598.4 395.0 C598.6 396.0 598.3 397.8 598.4 399.0 C598.5 400.2 598.9 401.7 599.0 402.2"/>
<path class="l" d="M599.0 396.4 C600.8 396.6 606.2 397.8 610.0 397.6 C613.8 397.4 618.4 396.3 622.0 395.0 C625.6 393.7 629.2 391.8 631.6 390.0 C634.0 388.2 635.8 385.0 636.6 384.0"/>
<path class="l" d="M599.0 402.2 C600.3 402.4 604.2 403.4 607.0 403.4 C609.8 403.4 614.5 402.6 616.0 402.4"/>
</g>
<!-- ===== CLIP ===== -->
<g id="clip">
<path class="wm" d="M624.6 430.5 C625.9 430.9 630.1 431.9 632.6 433.0 C635.1 434.1 637.5 435.7 639.5 437.3 C641.5 438.9 643.3 440.7 644.4 442.6 C645.5 444.5 645.9 446.8 646.3 448.5 C646.7 450.2 646.7 451.4 646.6 452.6 C646.5 453.9 646.3 454.7 645.7 456.0 C645.1 457.3 644.0 459.2 643.0 460.6 C642.0 462.1 640.9 463.4 639.5 464.7 C638.1 466.0 635.3 467.8 634.5 468.4 L630.6 466.6 C631.5 465.9 634.4 464.1 636.0 462.6 C637.6 461.1 639.3 459.4 640.4 457.6 C641.5 455.8 642.3 453.8 642.6 452.0 C642.9 450.2 642.7 448.4 642.0 446.6 C641.3 444.8 640.2 442.7 638.6 441.0 C637.0 439.3 634.9 437.7 632.6 436.4 C630.3 435.1 626.3 433.9 625.0 433.4 Z"/>
<path class="l" d="M626.0 431.8 C627.2 432.3 631.1 433.3 633.4 434.6 C635.7 435.9 638.2 437.8 640.0 439.6 C641.8 441.4 643.2 443.5 644.0 445.6 C644.8 447.7 644.8 450.0 644.6 452.0 C644.4 454.0 643.6 455.8 642.6 457.6 C641.6 459.4 640.1 461.1 638.6 462.6 C637.1 464.1 634.3 465.9 633.4 466.6"/>
<path class="wm" d="M581.0 462.2 C581.8 462.7 584.1 464.1 586.0 465.0 C587.9 465.9 590.0 467.0 592.3 467.8 C594.6 468.6 597.5 469.2 600.0 469.6 C602.5 470.0 604.9 470.2 607.2 470.2 C609.5 470.2 611.7 470.1 614.0 469.8 C616.3 469.5 618.7 469.0 620.9 468.4 C623.1 467.8 625.0 466.9 627.0 466.0 C629.0 465.1 630.8 464.3 632.7 462.8 C634.6 461.3 637.3 458.1 638.2 457.2 L638.6 464 L634.5 468.4 C633.9 469.0 632.4 470.7 630.8 472.1 C629.2 473.5 627.1 475.2 625.0 476.6 C622.9 478.0 620.5 479.3 618.4 480.2 C616.3 481.1 614.5 481.6 612.6 482.0 C610.7 482.4 609.2 482.6 607.2 482.6 C605.2 482.6 602.7 482.3 600.6 482.0 C598.5 481.7 595.8 481.0 594.8 480.8 L594.8 477 L591 478.3 L577.4 474.6 L577.4 464.7 Z"/>
<path class="m" d="M577.4 464.7 L590.6 469 L591 478.3 M590.6 469 L592.3 467.8 M594.8 477 L599.8 474.8 L599.8 472.6 L594.6 471.6 M599.8 474.8 Q610 477.6 620 473.6 Q628 470 634 464"/>
<path class="l" d="M581 468 L581 473.6 L587.4 475.6 L587.4 472.4 L584 471.4 L584 469"/>
<path class="l" d="M632.7 462.8 L633 468.6 M635.6 460.4 L636 466.4"/>
<path class="m" d="M619.0 431.2 C620.1 431.8 623.8 433.4 625.8 434.6 C627.8 435.8 629.5 437.3 631.0 438.6 C632.5 439.9 633.7 441.1 634.7 442.4 C635.7 443.7 636.6 445.1 637.2 446.4 C637.8 447.7 638.0 449.0 638.1 450.3 C638.2 451.6 638.2 452.9 638.0 454.0 C637.8 455.1 637.5 456.0 637.0 457.0 C636.5 458.0 635.8 459.1 635.0 460.0 C634.2 460.9 632.9 462.2 632.5 462.6"/>
<path class="wm" d="M593.0 436.7 C593.7 436.3 595.5 435.0 597.0 434.4 C598.5 433.8 600.3 433.3 602.2 433.0 C604.1 432.7 606.5 432.7 608.6 432.8 C610.7 432.9 612.9 433.1 614.7 433.6 C616.5 434.1 618.2 434.9 619.6 435.8 C621.0 436.7 622.3 438.1 623.3 439.2 C624.3 440.3 625.1 441.5 625.6 442.6 C626.1 443.7 626.4 444.9 626.4 446.0 C626.4 447.1 625.9 448.6 625.8 449.1 L622.7 449.1 C622.5 448.8 622.1 447.9 621.6 447.4 C621.1 446.9 620.5 446.7 619.6 446.0 C618.7 445.3 617.2 444.1 616.0 443.4 C614.8 442.7 613.7 442.1 612.2 441.7 C610.7 441.3 608.7 440.9 607.0 440.8 C605.3 440.7 603.7 440.8 602.2 441.0 C600.7 441.2 599.2 441.6 598.0 442.0 C596.8 442.4 595.3 443.2 594.8 443.5 Z"/>
<path class="l" d="M594.6 438.6 C595.3 438.3 597.2 437.1 598.6 436.6 C600.0 436.1 601.3 435.6 603.0 435.4 C604.7 435.2 607.1 435.1 609.0 435.2 C610.9 435.3 612.9 435.5 614.6 436.0 C616.3 436.5 617.7 437.1 619.0 438.0 C620.3 438.9 621.7 440.1 622.6 441.2 C623.5 442.3 624.2 443.5 624.6 444.6 C625.0 445.7 624.9 447.4 625.0 448.0"/>
<path class="wm" d="M606 430.4 L607.6 427 L618.4 427.4 L619.6 431 L619.6 433.4 L606 432.8 Z"/>
<path class="l" d="M607.6 427.2 L608 429.6 L618.4 430 L618.4 427.6"/>
<path class="m" d="M598.5 448.5 C598.7 448.1 599.2 447.0 599.8 446.4 C600.4 445.8 601.2 445.2 602.2 444.8 C603.2 444.4 604.8 444.1 606.0 444.0 C607.2 443.9 608.5 444.0 609.7 444.2 C610.9 444.4 612.0 444.9 613.0 445.4 C614.0 445.9 615.1 446.6 615.9 447.3 C616.7 448.0 617.3 448.8 617.8 449.6 C618.3 450.4 618.8 451.8 619.0 452.2"/>
<path class="l" d="M598.6 451.6 C598.9 451.2 599.7 449.7 600.6 449.0 C601.5 448.3 602.7 447.8 604.0 447.6 C605.3 447.4 607.2 447.3 608.6 447.6 C610.0 447.9 611.5 448.5 612.6 449.2 C613.7 449.9 614.6 451.5 615.0 452.0"/>
<path class="l" d="M598.5 448.5 L598.6 451.6"/>
<path class="wm" d="M587.3 449.8 C588.0 450.3 589.9 451.8 591.4 452.6 C592.9 453.4 594.3 454.1 596.0 454.7 C597.7 455.3 599.7 455.9 601.6 456.2 C603.5 456.5 605.4 456.6 607.2 456.6 C609.0 456.6 611.0 456.3 612.6 456.0 C614.2 455.7 615.8 455.2 617.1 454.7 C618.4 454.2 619.7 453.2 620.2 452.9 L620.2 458.4 C619.9 458.8 619.5 460.2 618.4 461.0 C617.3 461.8 615.3 462.5 613.6 463.0 C611.9 463.5 610.2 463.9 608.4 464.0 C606.6 464.1 604.6 464.0 603.0 463.8 C601.4 463.6 600.2 463.4 598.5 462.8 C596.8 462.2 594.6 461.3 593.0 460.4 C591.4 459.5 589.3 457.7 588.6 457.2 Z"/>
<path class="l" d="M588.0 452.6 C588.8 453.1 590.9 454.8 592.6 455.6 C594.3 456.4 596.2 457.1 598.0 457.6 C599.8 458.1 601.8 458.6 603.6 458.8 C605.4 459.0 606.9 459.1 608.6 459.0 C610.3 458.9 612.0 458.6 613.6 458.2 C615.2 457.8 616.9 456.9 618.0 456.4 C619.1 455.9 619.8 455.2 620.2 455.0"/>
</g>
<!-- ===== BUSHING ===== -->
<g id="bushing">
<ellipse cx="562.7" cy="158.6" rx="7.6" ry="4.3" fill="#fff" stroke="#111" stroke-width="2.2"/>
<ellipse cx="562.7" cy="154.8" rx="7.8" ry="4.4" fill="#fff" stroke="#111" stroke-width="2.2"/>
<ellipse cx="562.7" cy="151" rx="7.8" ry="4.4" fill="#fff" stroke="#111" stroke-width="2.2"/>
<ellipse cx="562.7" cy="147.4" rx="7.6" ry="4.4" fill="#fff" stroke="#111" stroke-width="2.2"/>
<ellipse cx="562.7" cy="146.8" rx="3.4" ry="1.6" fill="#fff" stroke="#111" stroke-width="1.2"/>
</g>


</g>
<g id="leaders2" class="ld">
<path d="M612 295 L640 280.6"/>
</g>
</svg>
</body></html>
